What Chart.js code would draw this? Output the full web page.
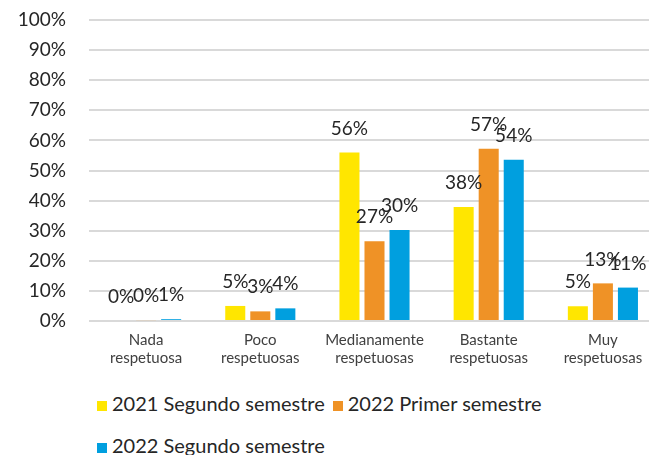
<!DOCTYPE html>
<html>
<head>
<meta charset="utf-8">
<script src="https://cdn.jsdelivr.net/npm/chart.js@4"></script>
<style>
  html, body { margin: 0; padding: 0; background: #fff; overflow: hidden; }
  #wrap { position: relative; width: 649px; height: 455px; overflow: hidden; }
  #box { position: absolute; left: 0; top: 0; width: 660px; height: 371px; }
  #legend { position: absolute; left: 97px; top: 382px; width: 470px; font-family: Lato, sans-serif; font-size: 20px; color: #262626; line-height: 42px; }
  #legend span.item { display: inline-block; margin-right: 8px; white-space: nowrap; }
  #legend i { display: inline-block; width: 10px; height: 10px; margin-right: 5px; vertical-align: 0px; }
</style>
</head>
<body>
<div id="wrap">
  <div id="box"><canvas id="chart"></canvas></div>
  <div id="legend"></div>
</div>
<script>
const categories = [
    ['Nada', 'respetuosa'],
    ['Poco', 'respetuosas'],
    ['Medianamente', 'respetuosas'],
    ['Bastante', 'respetuosas'],
    ['Muy', 'respetuosas']
];
const seriesNames = ['2021 Segundo semestre', '2022 Primer semestre', '2022 Segundo semestre'];
const sem2021b = [0, 5.0, 56.0, 37.9, 4.9];
const sem2022a = [0.3, 3.2, 26.5, 57.2, 12.5];
const sem2022b = [0.6, 4.2, 30.2, 53.6, 11.1];
const colors = ['#FFE600', '#EF9226', '#009FDF'];
const yTicks = [0, 10, 20, 30, 40, 50, 60, 70, 80, 90, 100];

const textColor = '#262626';

// labels above each bar, like the spreadsheet data labels
const barLabels = {
    id: 'barLabels',
    afterDatasetsDraw(chart) {
        const ctx = chart.ctx;
        ctx.save();
        ctx.font = '19px Lato';
        ctx.fillStyle = textColor;
        ctx.textAlign = 'center';
        ctx.textBaseline = 'middle';
        chart.data.datasets.forEach((ds, i) => {
            chart.getDatasetMeta(i).data.forEach((bar, j) => {
                ctx.fillText(Math.round(ds.data[j]) + '%', bar.x, bar.y - 24);
            });
        });
        ctx.restore();
    }
};

const ctx = document.getElementById('chart').getContext('2d');
const chart = new Chart(ctx, {
    type: 'bar',
    data: {
        labels: categories,
        datasets: [sem2021b, sem2022a, sem2022b].map((d, i) => ({
            label: seriesNames[i],
            data: d,
            backgroundColor: colors[i],
            categoryPercentage: 75 / 114,
            barPercentage: 0.8
        }))
    },
    options: {
        responsive: true,
        maintainAspectRatio: false,
        animation: false,
        layout: { padding: { top: 20, right: 0, bottom: 0, left: 0 } },
        plugins: {
            legend: { display: false },
            tooltip: { enabled: false }
        },
        scales: {
            x: {
                grid: { display: false, drawTicks: false },
                border: { display: false },
                ticks: {
                    padding: 10,
                    color: '#404040',
                    font: { family: 'Lato', size: 15, lineHeight: 1.2 },
                    maxRotation: 0
                },
                afterFit: s => { s.height = 50; }
            },
            y: {
                min: 0,
                max: 100,
                afterBuildTicks: s => { s.ticks = yTicks.map(v => ({ value: v })); },
                grid: { color: '#d9d9d9', lineWidth: 2, drawTicks: true, tickLength: 20, tickColor: 'rgba(0,0,0,0)' },
                border: { display: false },
                ticks: {
                    padding: 3,
                    color: textColor,
                    font: { family: 'Lato', size: 19 },
                    callback: v => v + '%'
                },
                afterFit: s => { s.width = 89; }
            }
        }
    },
    plugins: [barLabels]
});

// legend built from the chart's datasets
const legend = document.getElementById('legend');
chart.data.datasets.forEach(ds => {
    const item = document.createElement('span');
    item.className = 'item';
    const sw = document.createElement('i');
    sw.style.background = ds.backgroundColor;
    item.appendChild(sw);
    item.appendChild(document.createTextNode(ds.label));
    legend.appendChild(item);
});
</script>
</body>
</html>
